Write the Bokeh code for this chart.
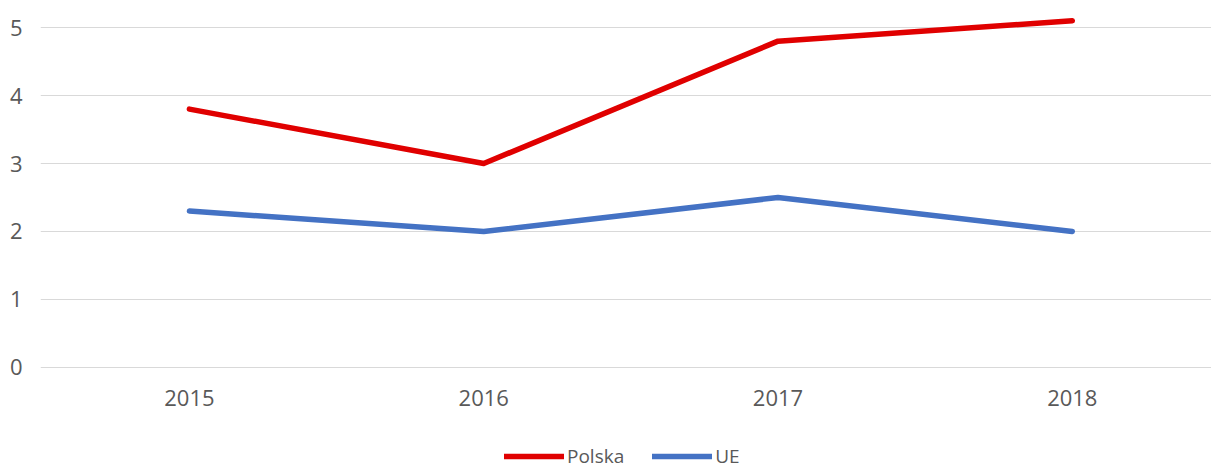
from bokeh.plotting import figure
from bokeh.models import Range1d, FixedTicker, Legend, LegendItem
from bokeh.layouts import column
from bokeh.embed import file_html
from bokeh.resources import INLINE

years = ["2015", "2016", "2017", "2018"]
polska = [3.8, 3.0, 4.8, 5.1]
ue = [2.3, 2.0, 2.5, 2.0]
y_ticks = [0, 1, 2, 3, 4, 5]
series_names = ["Polska", "UE"]
series_colors = ["#E00000", "#4472C4"]

xs = list(range(len(years)))

FONT = "Open Sans"
TXT = "#595959"

p = figure(frame_width=1171, frame_height=361, output_backend="svg", toolbar_location=None,
           x_range=Range1d(-0.506, 3.473), y_range=Range1d(-0.03, 5.28),
           min_border_left=40, min_border_right=0, min_border_top=8,
           min_border_bottom=72)
p.outline_line_color = None
p.background_fill_color = "white"
p.border_fill_color = "white"

for vals, col in zip([polska, ue], series_colors):
    p.line(xs, vals, line_color=col, line_width=5.5, line_cap="round", line_join="round")

p.xaxis.ticker = FixedTicker(ticks=xs)
p.xaxis.major_label_overrides = {i: y for i, y in enumerate(years)}
p.yaxis.ticker = FixedTicker(ticks=y_ticks)
for ax in (p.xaxis, p.yaxis):
    ax.axis_line_color = None
    ax.major_tick_line_color = None
    ax.minor_tick_line_color = None
    ax.major_label_text_font = FONT
    ax.major_label_text_font_size = "22px"
    ax.major_label_text_color = TXT
p.xaxis.major_label_standoff = 14
p.yaxis.major_label_standoff = 12

p.xgrid.grid_line_color = None
p.ygrid.grid_line_color = "#D9D9D9"
p.ygrid.grid_line_width = 1

# legend strip below the chart
lg = figure(width=1211, height=29, output_backend="svg", toolbar_location=None,
            x_range=Range1d(-10, -9), y_range=Range1d(-10, -9),
            min_border_left=0, min_border_right=0, min_border_top=0, min_border_bottom=0)
lg.axis.visible = False
lg.grid.grid_line_color = None
lg.outline_line_color = None
items = []
for name, vals, col in zip(series_names, [polska, ue], series_colors):
    r = lg.line(xs, vals, line_color=col, line_width=5.5, line_cap="round")
    items.append(LegendItem(label=name, renderers=[r]))

legend = Legend(items=items, orientation="horizontal", location=(464, 1),
                glyph_width=60, glyph_height=20, label_standoff=3, spacing=28,
                padding=0, margin=0, border_line_color=None,
                background_fill_alpha=0,
                label_text_font=FONT, label_text_font_size="19px",
                label_text_color=TXT)
lg.add_layout(legend, "center")

layout = column(p, lg, spacing=0)
open("out.html", "w").write(file_html(layout, INLINE))
